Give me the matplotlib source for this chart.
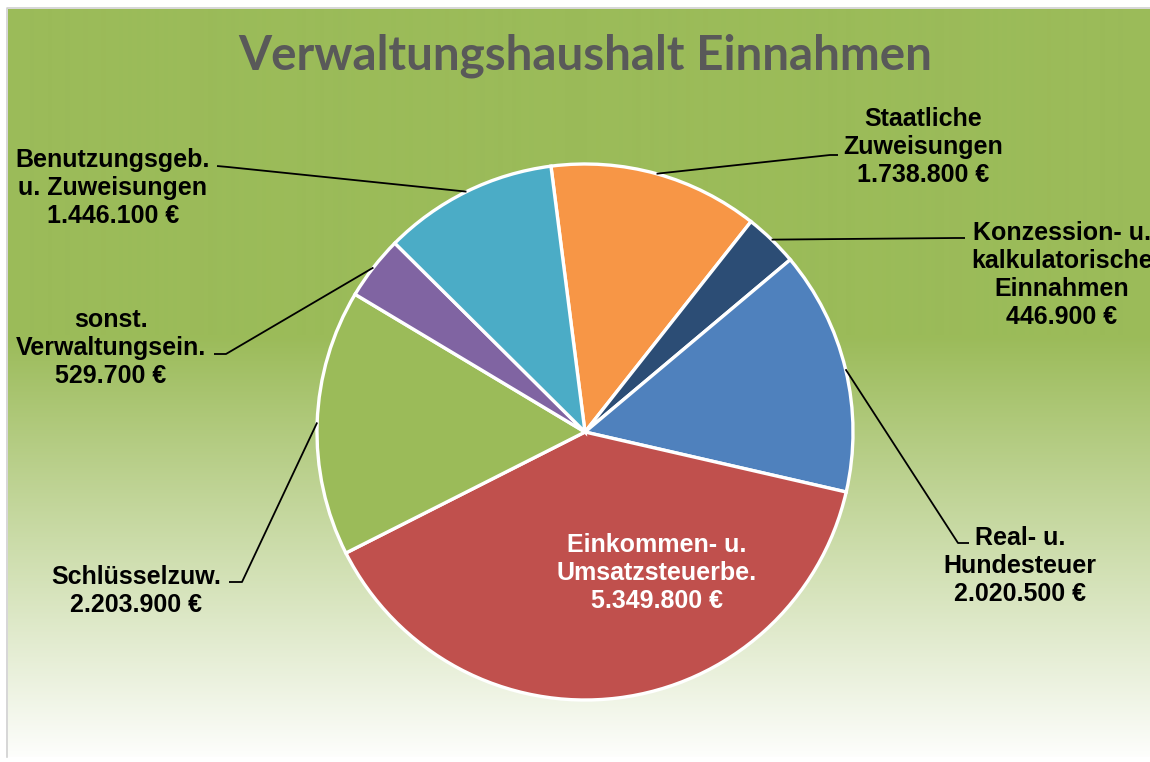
import numpy as np
import matplotlib
matplotlib.use("Agg")
import matplotlib.pyplot as plt
from matplotlib.colors import to_rgb

# data
categories = ["Staatliche\nZuweisungen",
              "Konzession- u.\nkalkulatorische\nEinnahmen",
              "Real- u.\nHundesteuer",
              "Einkommen- u.\nUmsatzsteuerbe.",
              "Schlüsselzuw.",
              "sonst.\nVerwaltungsein.",
              "Benutzungsgeb.\nu. Zuweisungen"]
values = [1738800, 446900, 2020500, 5349800, 2203900, 529700, 1446100]
colors = ["#F79646", "#2C4D75", "#4F81BD", "#C0504D", "#9BBB59", "#8064A2", "#4BACC6"]
title = "Verwaltungshaushalt Einnahmen"

W, H = 1150, 762

def py(y):
    # pixel row (from top) -> data y
    return H - y

# label layout: text centre, leader elbow, leader end (pixel coords), None = inside
label_pos = [
    ((923, 147), (830, 155), (838, 155)),
    ((1062, 275), (955, 238), (965, 238)),
    ((1020, 566), (958, 543), (969, 543)),
    None,
    ((136, 591), (242, 582), (229, 582)),
    ((111, 348), (226, 354), (214, 354)),
    ((113, 188), (228, 167), (217, 166)),
]
inside_pos = (657, 573)

def euro(v):
    return f"{v:,}".replace(",", ".") + " €"

fig = plt.figure(figsize=(W / 100, H / 100), dpi=100)
ax = fig.add_axes([0, 0, 1, 1])

# background: solid green on top, fading to white towards the bottom
green = np.array(to_rgb("#9BBB59"))
white = np.array([1.0, 1.0, 1.0])
rows = np.arange(9, 757)
t = np.clip((rows - 335) / (757 - 335), 0, 1)[:, None]
grad = green * (1 - t) + white * t * 0.985 + 0.015 * t * green
ax.imshow(grad[:, None, :], extent=(8, W, py(757), py(9)), aspect="auto",
          interpolation="bilinear", zorder=0)
ax.plot([7, 7, W + 5], [py(757), py(8), py(8)], color="#D0D0D0", lw=1.2, zorder=1)

cx, cy, r = 585, py(432), 268
wedges, _ = ax.pie(values, colors=colors, startangle=97.3, counterclock=False,
                   center=(cx, cy), radius=r,
                   wedgeprops=dict(edgecolor="white", linewidth=2.4))
for w in wedges:
    w.set_zorder(2)

lab_font = dict(family="Liberation Sans", weight="bold", fontsize=18)

for w, cat, v, pos in zip(wedges, categories, values, label_pos):
    txt = cat + "\n" + euro(v)
    if pos is None:
        ax.text(inside_pos[0], py(inside_pos[1]), txt, color="white",
                ha="center", va="center", linespacing=1.2, zorder=4, **lab_font)
        continue
    (tx, ty), (ex, ey), (lx, ly) = pos
    mid = np.deg2rad((w.theta1 + w.theta2) / 2)
    sx, sy = cx + r * np.cos(mid), cy + r * np.sin(mid)
    ax.plot([sx, ex, lx], [sy, py(ey), py(ly)], color="black", lw=1.3, zorder=3,
            solid_capstyle="butt")
    ax.text(tx, py(ty), txt, color="black", ha="center", va="center",
            linespacing=1.2, zorder=4, **lab_font)

tt = ax.text(585, py(69), title, ha="center", va="baseline", color="#595959",
             family="Lato", weight="bold", fontsize=30, zorder=4)
fig.canvas.draw()
tw = tt.get_window_extent().width
tt.set_fontsize(30 * 695 / tw)

ax.set_xlim(0, W)
ax.set_ylim(0, H)
ax.set_aspect("auto")
ax.axis("off")

fig.savefig("out.png", dpi=100, facecolor="white")
